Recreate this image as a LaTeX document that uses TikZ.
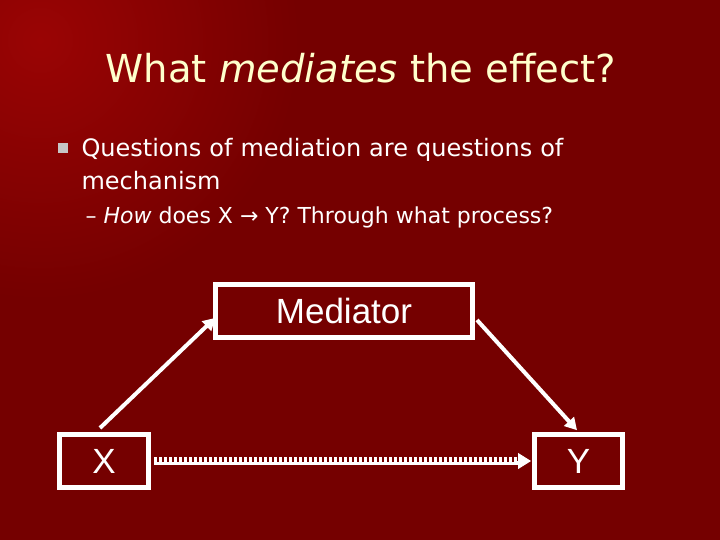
\documentclass[tikz,border=0pt]{standalone}
\usepackage{fontspec}
\setmainfont{DejaVu Sans}
\newfontfamily\arialf{Liberation Sans}
\usetikzlibrary{arrows.meta}
\definecolor{bgred}{HTML}{750000}
\definecolor{hired}{HTML}{9A0404}
\definecolor{titlec}{HTML}{FFFFCC}
\tikzset{
  box/.style={draw=white, line width=5pt, minimum height=53pt, inner sep=0pt, text=white, font=\arialf\fontsize{35}{38}\selectfont},
  conn/.style={draw=white, line width=4pt, -{Triangle[length=12pt,width=13pt]}, shorten >=-3pt}
}
\begin{document}
\begin{tikzpicture}[x=1pt,y=-1pt]
\useasboundingbox (0,0) rectangle (720,540);
\fill[bgred] (0,0) rectangle (720,540);
\begin{scope}
\clip (0,0) rectangle (720,540);
\shade[inner color=hired, outer color=bgred] (40,40) circle (260);
\end{scope}
\node[text=titlec, font=\fontsize{38.5}{42}\selectfont] (title) at (361,68) {What \textit{mediates} the effect?};
\fill[gray!45] (58,143) rectangle (68,153) coordinate (bul);
\node[anchor=west, text=white, font=\fontsize{24}{33}\selectfont, align=left, text width=600pt] (b1) at (78,164) {Questions of mediation are questions of\\mechanism};
\node[anchor=west, text=white, font=\fontsize{22}{24}\selectfont] (b2) at (82,217) {– \textit{How} does X → Y? Through what process?};
\node[box, minimum width=257pt] (med) at (344,310.5) {Mediator};
\node[box, minimum width=89pt] (x) at (104,461) {X};
\node[box, minimum width=88pt] (y) at (578.5,461) {Y};
\draw[conn] (100,428) -- (med.west |- 0,320);
\coordinate (ms) at (477,320);
\draw[conn] (ms) -- (575,428);
\draw[white, line width=3pt] ([xshift=3pt,yshift=-2.5pt]x.east) -- ([xshift=-14pt,yshift=-2.5pt]y.west);
\draw[white, line width=5pt, dash pattern=on 3pt off 2pt] ([xshift=3pt,yshift=1.5pt]x.east) -- ([xshift=-14pt,yshift=1.5pt]y.west);
\draw[white, line width=1pt, -{Triangle[length=13pt,width=16pt]}] ([xshift=-16pt]y.west) -- ([xshift=-1pt]y.west);
\end{tikzpicture}
\end{document}
